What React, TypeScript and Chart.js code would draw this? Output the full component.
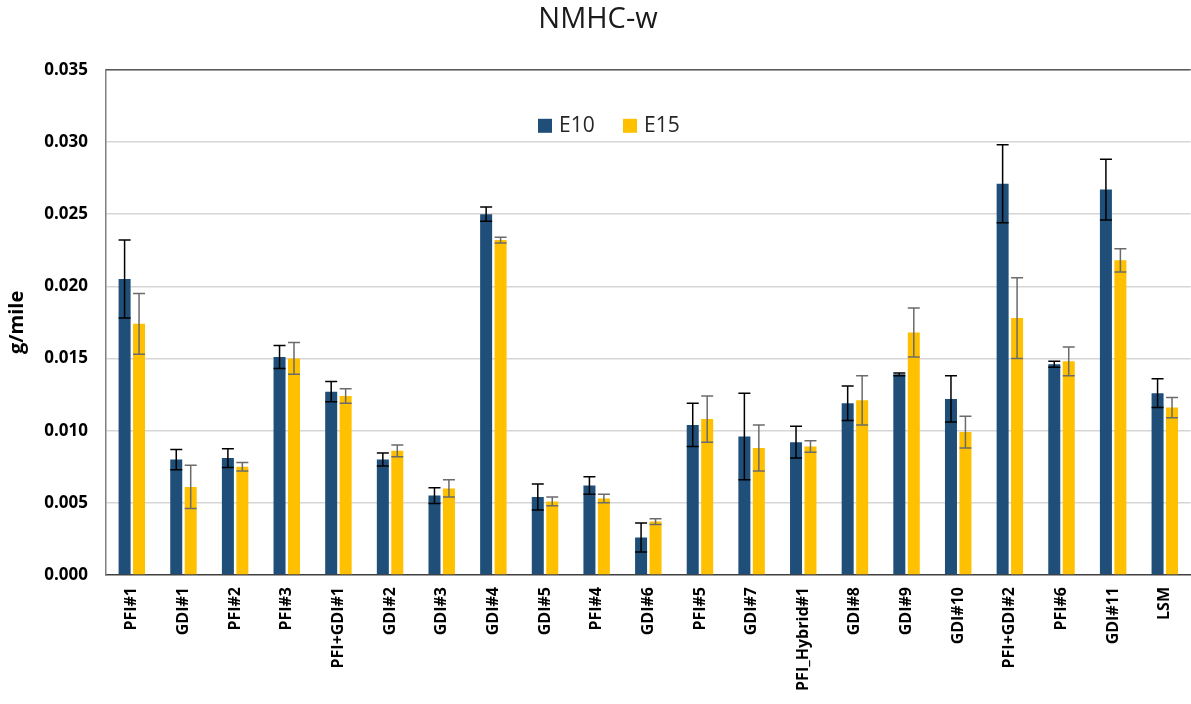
import React, { useEffect, useRef } from "react";
import { Chart, registerables } from "chart.js";

Chart.register(...registerables);

const categories = [
  "PFI#1", "GDI#1", "PFI#2", "PFI#3", "PFI+GDI#1", "GDI#2", "GDI#3", "GDI#4", "GDI#5", "PFI#4", "GDI#6",
  "PFI#5", "GDI#7", "PFI_Hybrid#1", "GDI#8", "GDI#9", "GDI#10", "PFI+GDI#2", "PFI#6", "GDI#11", "LSM",
];
const e10Values = [0.0205, 0.0080, 0.0081, 0.0151, 0.0127, 0.0080, 0.0055, 0.0250, 0.0054, 0.0062, 0.0026, 0.0104, 0.0096, 0.0092, 0.0119, 0.0139, 0.0122, 0.0271, 0.0146, 0.0267, 0.0126];
const e10Errors = [0.0027, 0.0007, 0.00065, 0.0008, 0.0007, 0.00045, 0.00055, 0.0005, 0.0009, 0.0006, 0.0010, 0.0015, 0.0030, 0.0011, 0.0012, 0.0001, 0.0016, 0.0027, 0.0002, 0.0021, 0.0010];
const e15Values = [0.0174, 0.0061, 0.0075, 0.0150, 0.0124, 0.0086, 0.0060, 0.0232, 0.0051, 0.0053, 0.0037, 0.0108, 0.0088, 0.0089, 0.0121, 0.0168, 0.0099, 0.0178, 0.0148, 0.0218, 0.0116];
const e15Errors = [0.0021, 0.0015, 0.0003, 0.0011, 0.0005, 0.0004, 0.0006, 0.0002, 0.0003, 0.0003, 0.0002, 0.0016, 0.0016, 0.0004, 0.0017, 0.0017, 0.0011, 0.0028, 0.0010, 0.0008, 0.0007];
const seriesNames = ["E10", "E15"];
const seriesColors = ["#1F4E79", "#FFC000"];
const errorColors = ["#000000", "#6b6b6b"];
const yTicks = { min: 0, max: 0.035, step: 0.005 };

const FONT = "'Open Sans', 'Liberation Sans', sans-serif";

const errorBarPlugin = {
  id: "errorBars",
  afterDatasetsDraw(chart: any) {
    const ctx = chart.ctx;
    const yScale = chart.scales.y;
    chart.data.datasets.forEach((ds: any, i: number) => {
      const meta = chart.getDatasetMeta(i);
      meta.data.forEach((el: any, j: number) => {
        const v = ds.data[j];
        const e = ds.errors[j];
        const yTop = yScale.getPixelForValue(v + e);
        const yBot = yScale.getPixelForValue(v - e);
        const half = el.width / 2;
        ctx.save();
        ctx.strokeStyle = ds.errorColor;
        ctx.lineWidth = 1.5;
        ctx.beginPath();
        ctx.moveTo(el.x, yTop);
        ctx.lineTo(el.x, yBot);
        ctx.moveTo(el.x - half, yTop);
        ctx.lineTo(el.x + half, yTop);
        ctx.moveTo(el.x - half, yBot);
        ctx.lineTo(el.x + half, yBot);
        ctx.stroke();
        ctx.restore();
      });
    });
  },
};

const framePlugin = {
  id: "frame",
  afterDraw(chart: any) {
    const { ctx, chartArea } = chart;
    ctx.save();
    ctx.strokeStyle = "#595959";
    ctx.lineWidth = 1.5;
    ctx.beginPath();
    ctx.moveTo(chartArea.left, chartArea.top);
    ctx.lineTo(chartArea.right, chartArea.top);
    ctx.stroke();
    ctx.restore();
  },
};

const insideLegendPlugin = {
  id: "insideLegend",
  afterDraw(chart: any) {
    const { ctx, chartArea } = chart;
    const x0 = chartArea.left + 432;
    const y0 = chartArea.top + 49;
    ctx.save();
    ctx.font = `21px ${FONT}`;
    ctx.textBaseline = "middle";
    ctx.textAlign = "left";
    chart.data.datasets.forEach((ds: any, i: number) => {
      const x = x0 + i * 85;
      ctx.fillStyle = ds.backgroundColor;
      ctx.fillRect(x, y0, 14, 14);
      ctx.fillStyle = "#262626";
      ctx.fillText(ds.label, x + 21, y0 + 7);
    });
    ctx.restore();
  },
};

export default function App() {
  const canvasRef = useRef<HTMLCanvasElement>(null);

  useEffect(() => {
    if (!canvasRef.current) return;
    const chart = new Chart(canvasRef.current, {
      type: "bar",
      data: {
        labels: categories,
        datasets: [
          {
            label: seriesNames[0],
            data: e10Values,
            errors: e10Errors,
            errorColor: errorColors[0],
            backgroundColor: seriesColors[0],
            categoryPercentage: 0.56,
            barPercentage: 0.83,
          } as any,
          {
            label: seriesNames[1],
            data: e15Values,
            errors: e15Errors,
            errorColor: errorColors[1],
            backgroundColor: seriesColors[1],
            categoryPercentage: 0.56,
            barPercentage: 0.83,
          } as any,
        ],
      },
      options: {
        responsive: false,
        animation: false,
        layout: { padding: 0 },
        plugins: {
          legend: { display: false },
          tooltip: { enabled: false },
          title: {
            display: true,
            text: "NMHC-w",
            color: "#1a1a1a",
            font: { family: FONT, size: 29, weight: "normal" as any },
            padding: { top: 2, bottom: 33 },
          },
        },
        scales: {
          x: {
            grid: { display: false, drawTicks: false },
            border: { display: true, color: "#404040", width: 1.5 },
            ticks: {
              color: "#000",
              font: { family: FONT, size: 16, weight: "bold" as any },
              minRotation: 90,
              maxRotation: 90,
              autoSkip: false,
              padding: 12,
            },
            afterFit(scale: any) {
              scale.height = 129;
            },
          },
          y: {
            min: yTicks.min,
            max: yTicks.max,
            grid: {
              color: (c: any) => (c.tick && c.tick.value === 0 ? "rgba(0,0,0,0)" : "#d6d6d6"),
              lineWidth: 1.5,
              drawTicks: false,
            },
            border: { display: true, color: "#7f7f7f", width: 1.5 },
            ticks: {
              stepSize: yTicks.step,
              color: "#000",
              font: { family: FONT, size: 17, weight: "bold" as any },
              padding: 18,
              callback: (v: any) => Number(v).toFixed(3),
            },
            title: {
              display: true,
              text: "g/mile",
              color: "#000",
              font: { family: FONT, size: 20, weight: "bold" as any },
              padding: { top: 5, bottom: 0 },
            },
            afterFit(scale: any) {
              scale.width = 106;
            },
          },
        },
      },
      plugins: [errorBarPlugin, framePlugin, insideLegendPlugin],
    });
    return () => chart.destroy();
  }, []);

  return (
    <div style={{ position: "fixed", left: 0, top: 0, width: 1191, height: 704, overflow: "hidden", background: "#fff" }}>
      <canvas ref={canvasRef} width={1196} height={704} style={{ display: "block" }} />
    </div>
  );
}
